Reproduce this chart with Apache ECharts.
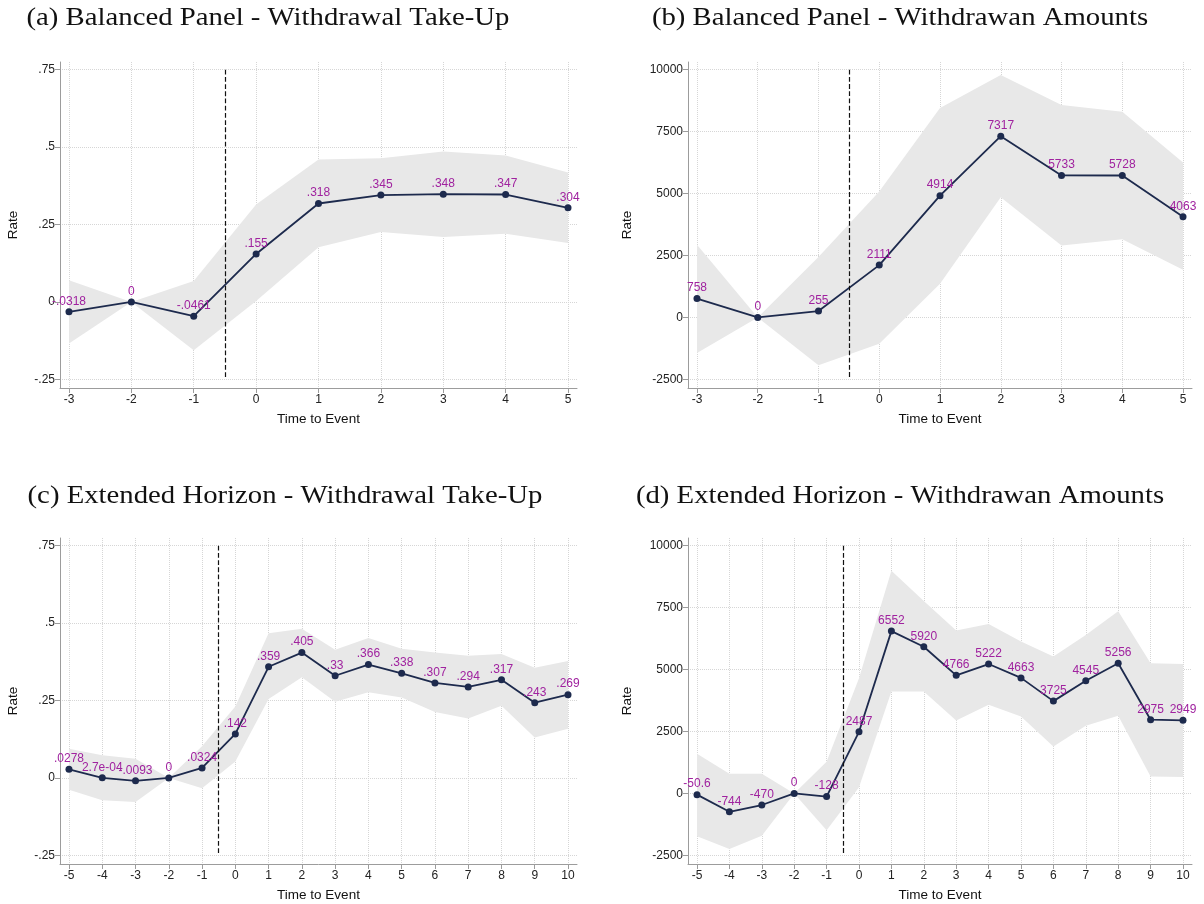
<!DOCTYPE html>
<html>
<head>
<meta charset="utf-8">
<title>Event study: withdrawals</title>
<script src="https://cdn.jsdelivr.net/npm/echarts@6/dist/echarts.min.js"></script>
<style>
  html, body { margin: 0; padding: 0; background: #fff; }
  #chart { width: 1204px; height: 904px; }
</style>
</head>
<body>
<div id="chart"></div>
<script>
// Event time (years relative to the event)
const periodsBalanced = [-3, -2, -1, 0, 1, 2, 3, 4, 5];
const periodsExtended = [-5, -4, -3, -2, -1, 0, 1, 2, 3, 4, 5, 6, 7, 8, 9, 10];

// (a) Balanced panel, take-up rate: point estimates and 95% CI
const takeUpBalanced   = [-0.0318, 0, -0.0461, 0.155, 0.318, 0.345, 0.348, 0.347, 0.304];
const takeUpBalancedLo = [-0.134, 0, -0.156, 0.003, 0.177, 0.226, 0.210, 0.220, 0.190];
const takeUpBalancedHi = [0.070, 0, 0.068, 0.315, 0.460, 0.464, 0.486, 0.473, 0.418];

// (b) Balanced panel, withdrawn amounts
const amountsBalanced   = [758, 0, 255, 2111, 4914, 7317, 5733, 5728, 4063];
const amountsBalancedLo = [-1438, 0, -1935, -1062, 1357, 4852, 2903, 3158, 1922];
const amountsBalancedHi = [2930, 0, 2433, 5080, 8454, 9785, 8575, 8306, 6250];

// (c) Extended horizon, take-up rate
const takeUpExtended   = [0.0278, 0.00027, -0.0093, 0, 0.0324, 0.142, 0.359, 0.405, 0.33, 0.366, 0.338, 0.307, 0.294, 0.317, 0.243, 0.269];
const takeUpExtendedLo = [-0.038, -0.072, -0.078, 0, -0.033, 0.053, 0.255, 0.325, 0.246, 0.277, 0.260, 0.213, 0.192, 0.233, 0.131, 0.159];
const takeUpExtendedHi = [0.0945, 0.073, 0.062, 0, 0.102, 0.231, 0.467, 0.482, 0.414, 0.452, 0.417, 0.405, 0.395, 0.400, 0.356, 0.378];

// (d) Extended horizon, withdrawn amounts
const amountsExtended   = [-50.6, -744, -470, 0, -128, 2487, 6552, 5920, 4766, 5222, 4663, 3725, 4545, 5256, 2975, 2949];
const amountsExtendedLo = [-1734, -2244, -1707, 0, -1492, 250, 4113, 4113, 2943, 3575, 3105, 1895, 2728, 3132, 685, 659];
const amountsExtendedHi = [1600, 793, 793, 0, 1277, 4650, 8991, 7768, 6572, 6841, 6129, 5524, 6397, 7352, 5255, 5228];

// Axis ticks
const rateTicks   = [-0.25, 0, 0.25, 0.5, 0.75];
const amountTicks = [-2500, 0, 2500, 5000, 7500, 10000];

const panelTitles = [
  '(a) Balanced Panel - Withdrawal Take-Up',
  '(b) Balanced Panel - Withdrawan Amounts',
  '(c) Extended Horizon - Withdrawal Take-Up',
  '(d) Extended Horizon - Withdrawan Amounts'
];

const eventLine = -0.5;

// Stata-like %9.3g labels: leading zero dropped, tiny values in e-notation
function fmtRate(v) {
  if (v === 0) return '0';
  if (Math.abs(v) < 0.001) {
    return v.toExponential(1).replace(/e([+-])(\d)$/, 'e$10$2');
  }
  return String(Number(v.toPrecision(3))).replace(/^(-?)0\./, '$1.');
}
function fmtAmount(v) {
  if (Math.abs(v) >= 100) return String(Math.round(v));
  return String(Number(v.toPrecision(3)));
}

const SANS = '"Liberation Sans", Arial, sans-serif';
const NAVY = '#1d2a4d';
const LABEL = '#a0229f';
const AXIS = '#9c9c9c';
const GRIDLINE = '#d6d6d6';

const chart = echarts.init(document.getElementById('chart'), null, { renderer: 'canvas' });

const panels = [
  { periods: periodsBalanced, est: takeUpBalanced, lo: takeUpBalancedLo, hi: takeUpBalancedHi,
    yTicks: rateTicks, fmt: fmtRate, grid: { left: 60, top: 62, width: 517, height: 326 },
    xMin: -3.144, xMax: 5.144, yMin: -0.278, yMax: 0.775, nameGapY: 40 },
  { periods: periodsBalanced, est: amountsBalanced, lo: amountsBalancedLo, hi: amountsBalancedHi,
    yTicks: amountTicks, fmt: fmtAmount, grid: { left: 688, top: 62, width: 504, height: 326 },
    xMin: -3.148, xMax: 5.148, yMin: -2851, yMax: 10311, nameGapY: 54 },
  { periods: periodsExtended, est: takeUpExtended, lo: takeUpExtendedLo, hi: takeUpExtendedHi,
    yTicks: rateTicks, fmt: fmtRate, grid: { left: 60, top: 538, width: 517, height: 326 },
    xMin: -5.27, xMax: 10.27, yMin: -0.278, yMax: 0.775, nameGapY: 40 },
  { periods: periodsExtended, est: amountsExtended, lo: amountsExtendedLo, hi: amountsExtendedHi,
    yTicks: amountTicks, fmt: fmtAmount, grid: { left: 688, top: 538, width: 504, height: 326 },
    xMin: -5.278, xMax: 10.278, yMin: -2851, yMax: 10311, nameGapY: 54 }
];

const grids = [], xAxes = [], yAxes = [], series = [];

panels.forEach((p, i) => {
  grids.push(Object.assign({ containLabel: false }, p.grid));

  xAxes.push({
    gridIndex: i, type: 'value', min: p.xMin, max: p.xMax,
    name: 'Time to Event', nameLocation: 'middle', nameGap: 24,
    nameTextStyle: { fontFamily: SANS, fontSize: 13.5, color: '#111' },
    axisLine: { show: true, onZero: false, lineStyle: { color: AXIS, width: 1 } },
    axisTick: { show: true, length: 5, customValues: p.periods, lineStyle: { color: AXIS } },
    axisLabel: { customValues: p.periods, margin: 6, fontFamily: SANS, fontSize: 12, color: '#222' },
    splitLine: { show: true, lineStyle: { type: 'dotted', color: GRIDLINE, width: 1 } }
  });

  yAxes.push({
    gridIndex: i, type: 'value', min: p.yMin, max: p.yMax,
    name: 'Rate', nameLocation: 'middle', nameGap: p.nameGapY, nameRotate: 90,
    nameTextStyle: { fontFamily: SANS, fontSize: 13.5, color: '#111' },
    axisLine: { show: true, onZero: false, lineStyle: { color: AXIS, width: 1 } },
    axisTick: { show: true, length: 5, customValues: p.yTicks, lineStyle: { color: AXIS } },
    axisLabel: { customValues: p.yTicks, margin: 5, fontFamily: SANS, fontSize: 12, color: '#222',
                 formatter: v => p.fmt(v) },
    splitLine: { show: true, lineStyle: { type: 'dotted', color: GRIDLINE, width: 1 } }
  });

  const band = p.periods.map((x, k) => [x, p.lo[k], p.hi[k]]);

  // Confidence band drawn as a single polygon through the axis scales
  series.push({
    type: 'custom', xAxisIndex: i, yAxisIndex: i, silent: true, z: 1,
    data: band,
    encode: { x: 0, y: [1, 2] },
    renderItem: (params, api) => {
      if (params.dataIndex !== 0) return;
      const upper = band.map(d => api.coord([d[0], d[2]]));
      const lower = band.map(d => api.coord([d[0], d[1]])).reverse();
      return {
        type: 'polygon',
        shape: { points: upper.concat(lower) },
        style: { fill: '#e8e8e8', stroke: null }
      };
    }
  });

  series.push({
    type: 'line', xAxisIndex: i, yAxisIndex: i, z: 3,
    data: p.periods.map((x, k) => [x, p.est[k]]),
    symbol: 'circle', symbolSize: 7,
    lineStyle: { color: NAVY, width: 1.8 },
    itemStyle: { color: NAVY },
    label: {
      show: true, position: 'top', distance: 1,
      fontFamily: SANS, fontSize: 12, color: LABEL,
      formatter: d => p.fmt(d.value[1])
    },
    markLine: {
      silent: true, symbol: ['none', 'none'], animation: false,
      label: { show: false },
      lineStyle: { type: 'dashed', color: '#111', width: 1.2 },
      data: [[{ coord: [eventLine, p.yTicks[p.yTicks.length - 1]] },
              { coord: [eventLine, p.yTicks[0]] }]]
    }
  });
});

const titleSpots = [[268, 18], [900, 18], [285, 496], [900, 496]];
const graphics = panelTitles.map((t, i) => ({
  type: 'text', x: titleSpots[i][0], y: titleSpots[i][1], scaleX: 1.15,
  style: {
    text: t, align: 'center', verticalAlign: 'middle',
    font: '25px "Liberation Serif", "Times New Roman", serif', fill: '#111'
  }
}));

chart.setOption({
  animation: false,
  backgroundColor: '#fff',
  grid: grids,
  xAxis: xAxes,
  yAxis: yAxes,
  series: series,
  graphic: graphics
});
</script>
</body>
</html>
